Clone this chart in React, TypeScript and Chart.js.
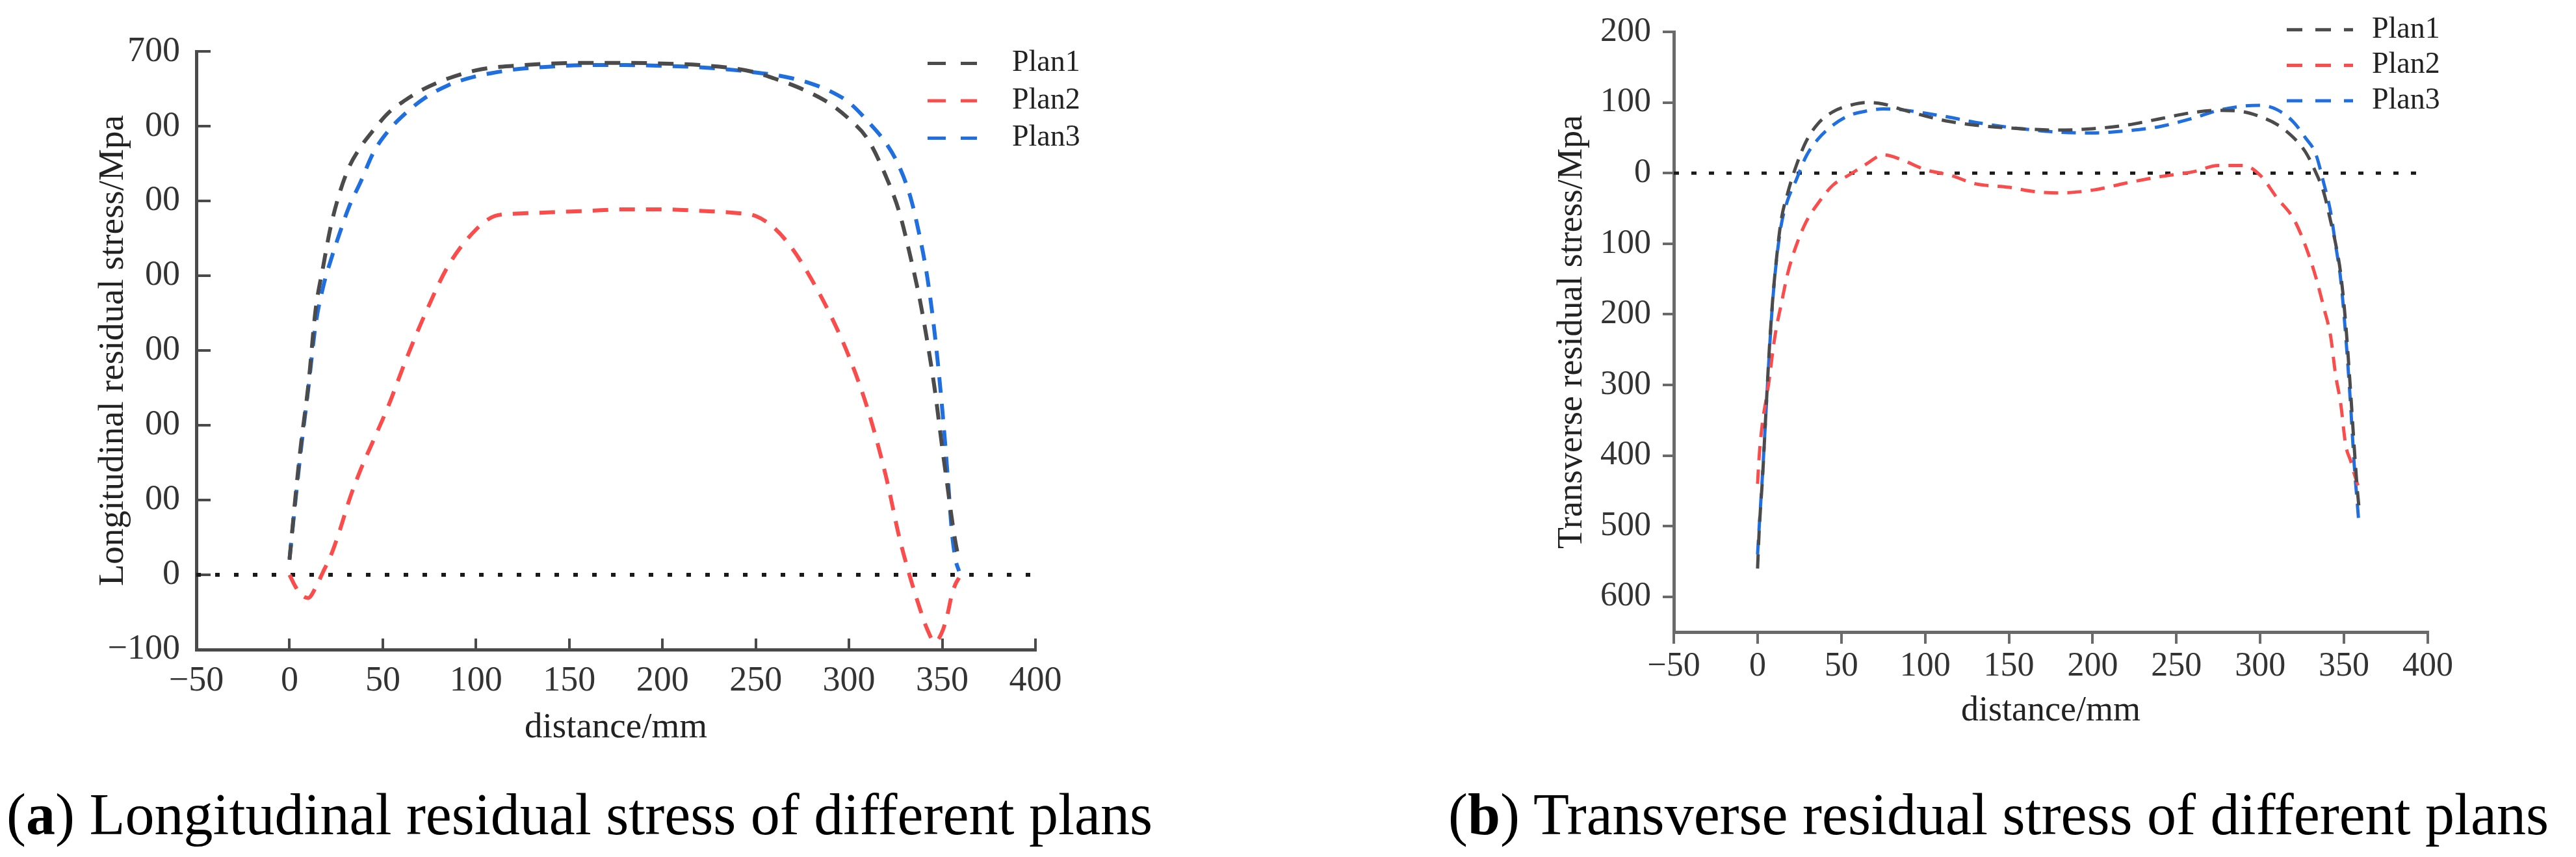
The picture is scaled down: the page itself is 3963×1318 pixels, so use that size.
import { useEffect, useRef } from "react";
import { Chart, registerables } from "chart.js";
import type { ChartConfiguration, Plugin } from "chart.js";

Chart.register(...registerables);

const SERIF = "'Liberation Serif', 'Times New Roman', serif";

// ---------------------------------------------------------------------------
// (a) longitudinal residual stress — x sampled in mm, values in MPa
// ---------------------------------------------------------------------------
const LONG_X = [
  0, 3, 6, 10, 14, 18, 22, 27, 32, 38, 45, 53, 62, 72, 85, 100, 110, 120, 140, 160, 180,
  200, 220, 240, 250, 260, 270, 280, 290, 300, 310, 320, 327, 333, 338, 342, 346, 350, 353,
  355, 357, 359,
];
const LONG_PLAN1 = [
  20, 100, 172, 252, 355, 412, 465, 512, 546, 572, 595, 618, 635, 650, 664, 675, 679, 681,
  684, 685, 685, 684, 682, 677, 672, 664, 655, 644, 630, 610, 583, 532, 485, 425, 368, 312,
  248, 170, 115, 78, 45, 20,
];
const LONG_PLAN2 = [
  0, -15, -26, -31, -17, 4, 25, 60, 100, 140, 180, 226, 285, 345, 413, 462, 480, 483, 485,
  487, 489, 489, 487, 484, 480, 464, 435, 395, 348, 292, 222, 130, 50, -5, -45, -73, -90,
  -76, -51, -28, -13, -4,
];
const LONG_PLAN3 = [
  22, 95, 165, 248, 335, 385, 420, 458, 493, 525, 565, 594, 617, 637, 655, 667, 672, 676,
  680, 682, 682, 681, 679, 675, 672, 669, 664, 657, 647, 632, 607, 577, 546, 505, 452, 398,
  322, 222, 130, 62, 22, 5,
];

// ---------------------------------------------------------------------------
// (b) transverse residual stress
// ---------------------------------------------------------------------------
const TRANS_X = [
  0, 1, 3, 5, 7, 9, 11, 14, 18, 23, 29, 36, 45, 55, 65, 75, 85, 100, 115, 130, 150, 165,
  180, 200, 220, 240, 260, 275, 290, 300, 310, 320, 327, 333, 338, 342, 345, 348, 351, 354,
  356, 358, 359,
];
const TRANS_PLAN1 = [
  -560, -505, -430, -338, -250, -180, -128, -68, -28, 10, 45, 70, 87, 96, 100, 98, 91, 81,
  73, 68, 64, 62, 61, 63, 68, 77, 86, 89, 87, 80, 69, 50, 30, 2, -28, -68, -100, -142, -213,
  -312, -385, -450, -475,
];
const TRANS_PLAN2 = [
  -440, -400, -352, -322, -292, -254, -222, -187, -142, -103, -69, -43, -17, -2, 13, 26, 20,
  5, -3, -15, -20, -26, -28, -24, -14, -5, 2, 11, 11, -3, -35, -65, -103, -146, -191, -231,
  -286, -326, -385, -408, -425, -440, -445,
];
const TRANS_PLAN3 = [
  -540, -500, -425, -340, -255, -182, -130, -75, -38, -10, 24, 48, 68, 82, 88, 91, 90, 85,
  79, 72, 65, 61, 58, 57, 60, 66, 78, 89, 95, 96, 90, 72, 50, 28, -15, -55, -102, -150, -230,
  -331, -410, -470, -500,
];

// dotted reference line at zero stress
const ZERO_X = [-50, 400];
const ZERO_Y = [0, 0];

// tick labels as printed in the figure
const X_TICK_VALUES = [-50, 0, 50, 100, 150, 200, 250, 300, 350, 400];
const X_TICK_LABELS = ["−50", "0", "50", "100", "150", "200", "250", "300", "350", "400"];
const LONG_Y_VALUES = [-100, 0, 100, 200, 300, 400, 500, 600, 700];
const LONG_Y_LABELS = ["−100", "0", "00", "00", "00", "00", "00", "00", "700"];
const TRANS_Y_VALUES = [-600, -500, -400, -300, -200, -100, 0, 100, 200];
const TRANS_Y_LABELS = ["600", "500", "400", "300", "200", "100", "0", "100", "200"];

const PLAN_NAMES = ["Plan1", "Plan2", "Plan3"];
const PLAN_COLORS = ["#4b4b4b", "#fb4c4c", "#1f6fe0"];

type LegendOpts = {
  top: number;
  gap: number;
  lineStart: number;
  lineLength: number;
  textStart: number;
  fontSize: number;
  lineWidth: number;
  dashOn: number;
  dashOff: number;
};

type Spec = {
  xs: number[];
  series: number[][];
  yMin: number;
  yMax: number;
  yValues: number[];
  yLabels: string[];
  yTitle: string;
  width: number;
  height: number;
  padTop: number;
  padRight: number;
  yAxisWidth: number;
  xAxisHeight: number;
  xTickLen: number; // negative = pointing into the plot
  yTickLen: number;
  xTickPad: number;
  yTickPad: number;
  yTitlePad: number;
  xTitlePad: number;
  tickFont: number;
  titleFont: number;
  axisColor: string;
  axisWidth: number;
  tickWidth: number;
  lineWidth: number;
  dash: number[];
  zeroWidth: number;
  zeroDash: number[];
  legend: LegendOpts;
};

const labelFor = (values: number[], labels: string[]) => (v: number | string) => {
  const i = values.indexOf(Number(v));
  return i < 0 ? "" : labels[i];
};

// legend drawn inside the plot, dashed sample + name, like the original
const dashLegend: Plugin<"line"> = {
  id: "dashLegend",
  afterDraw(chart, _args, opts: any) {
    const { ctx, chartArea } = chart;
    ctx.save();
    ctx.font = `${opts.fontSize}px ${SERIF}`;
    ctx.textBaseline = "middle";
    ctx.textAlign = "left";
    for (let i = 0; i < PLAN_NAMES.length; i++) {
      const y = chartArea.top + opts.top + i * opts.gap;
      const x = chartArea.right + opts.lineStart;
      ctx.strokeStyle = PLAN_COLORS[i];
      ctx.lineWidth = opts.lineWidth;
      ctx.setLineDash([opts.dashOn, opts.dashOff]);
      ctx.beginPath();
      ctx.moveTo(x, y);
      ctx.lineTo(x + opts.lineLength, y);
      ctx.stroke();
      ctx.setLineDash([]);
      ctx.fillStyle = "#222";
      ctx.fillText(PLAN_NAMES[i], chartArea.right + opts.textStart, y);
    }
    ctx.restore();
  },
};

function buildConfig(s: Spec): ChartConfiguration<"line"> {
  const planSets = s.series.map((ys, i) => ({
    label: PLAN_NAMES[i],
    data: s.xs.map((x, j) => ({ x, y: ys[j] })),
    borderColor: PLAN_COLORS[i],
    backgroundColor: PLAN_COLORS[i],
    borderWidth: s.lineWidth,
    borderDash: s.dash,
    borderCapStyle: "butt" as const,
    pointRadius: 0,
    fill: false,
    cubicInterpolationMode: "monotone" as const,
  }));
  const zeroSet = {
    label: "zero",
    data: ZERO_X.map((x, j) => ({ x, y: ZERO_Y[j] })),
    borderColor: "#1a1a1a",
    borderWidth: s.zeroWidth,
    borderDash: s.zeroDash,
    pointRadius: 0,
    fill: false,
    tension: 0,
  };

  return {
    type: "line",
    data: { datasets: [...planSets, zeroSet] as any },
    options: {
      responsive: true,
      maintainAspectRatio: false,
      animation: false,
      events: [],
      layout: {
        autoPadding: false,
        padding: { top: s.padTop, right: s.padRight, bottom: 0, left: 0 },
      },
      scales: {
        x: {
          type: "linear",
          min: -50,
          max: 400,
          afterFit: (sc: any) => {
            sc.height = s.xAxisHeight;
          },
          ticks: {
            stepSize: 50,
            autoSkip: false,
            maxRotation: 0,
            padding: s.xTickPad,
            color: "#333",
            font: { family: SERIF, size: s.tickFont },
            callback: labelFor(X_TICK_VALUES, X_TICK_LABELS),
          },
          grid: {
            drawOnChartArea: false,
            drawTicks: true,
            tickLength: s.xTickLen,
            color: s.axisColor,
            lineWidth: s.tickWidth,
          },
          border: { display: true, color: s.axisColor, width: s.axisWidth },
          title: {
            display: true,
            text: "distance/mm",
            color: "#222",
            font: { family: SERIF, size: s.titleFont },
            padding: { top: 0, bottom: s.xTitlePad },
          },
        },
        y: {
          type: "linear",
          min: s.yMin,
          max: s.yMax,
          afterFit: (sc: any) => {
            sc.width = s.yAxisWidth;
          },
          ticks: {
            stepSize: 100,
            includeBounds: false,
            autoSkip: false,
            padding: s.yTickPad,
            color: "#333",
            font: { family: SERIF, size: s.tickFont },
            callback: labelFor(s.yValues, s.yLabels),
          },
          grid: {
            drawOnChartArea: false,
            drawTicks: true,
            tickLength: s.yTickLen,
            color: s.axisColor,
            lineWidth: s.tickWidth,
          },
          border: { display: true, color: s.axisColor, width: s.axisWidth },
          title: {
            display: true,
            text: s.yTitle,
            color: "#222",
            font: { family: SERIF, size: s.titleFont },
            padding: { top: s.yTitlePad, bottom: 0 },
          },
        },
      },
      plugins: {
        legend: { display: false },
        tooltip: { enabled: false },
        dashLegend: s.legend,
      } as any,
    },
    plugins: [dashLegend],
  };
}

const LONG_SPEC: Spec = {
  xs: LONG_X,
  series: [LONG_PLAN1, LONG_PLAN2, LONG_PLAN3],
  yMin: -100,
  yMax: 700,
  yValues: LONG_Y_VALUES,
  yLabels: LONG_Y_LABELS,
  yTitle: "Longitudinal residual stress/Mpa",
  width: 1720,
  height: 1160,
  padTop: 32,
  padRight: 127,
  yAxisWidth: 302,
  xAxisHeight: 161,
  xTickLen: -17,
  yTickLen: -22,
  xTickPad: 33,
  yTickPad: 47,
  yTitlePad: 142,
  xTitlePad: 7,
  tickFont: 54,
  titleFont: 55,
  axisColor: "#4a4a4a",
  axisWidth: 5,
  tickWidth: 4,
  lineWidth: 6,
  dash: [24, 17],
  zeroWidth: 6,
  zeroDash: [7, 22],
  legend: {
    top: 18,
    gap: 57.5,
    lineStart: -166,
    lineLength: 76,
    textStart: -36,
    fontSize: 46,
    lineWidth: 5,
    dashOn: 28,
    dashOff: 23,
  },
};

const TRANS_SPEC: Spec = {
  xs: TRANS_X,
  series: [TRANS_PLAN1, TRANS_PLAN2, TRANS_PLAN3],
  yMin: -650,
  yMax: 200,
  yValues: TRANS_Y_VALUES,
  yLabels: TRANS_Y_LABELS,
  yTitle: "Transverse residual stress/Mpa",
  width: 1600,
  height: 1160,
  padTop: 33,
  padRight: 165,
  yAxisWidth: 275,
  xAxisHeight: 188,
  xTickLen: 18,
  yTickLen: 17,
  xTickPad: 4,
  yTickPad: 18,
  yTitlePad: 86,
  xTitlePad: 34,
  tickFont: 52,
  titleFont: 54,
  axisColor: "#6a6a6a",
  axisWidth: 5,
  tickWidth: 4,
  lineWidth: 5,
  dash: [22, 14],
  zeroWidth: 5,
  zeroDash: [8, 19],
  legend: {
    top: -3.5,
    gap: 54.7,
    lineStart: -217,
    lineLength: 102,
    textStart: -86,
    fontSize: 46,
    lineWidth: 5,
    dashOn: 24,
    dashOff: 20,
  },
};

function StressChart({ spec, left }: { spec: Spec; left: number }) {
  const canvasRef = useRef<HTMLCanvasElement>(null);

  useEffect(() => {
    if (!canvasRef.current) return;
    const chart = new Chart(canvasRef.current, buildConfig(spec));
    return () => chart.destroy();
  }, [spec]);

  return (
    <div style={{ position: "absolute", left, top: 0, width: spec.width, height: spec.height }}>
      <canvas ref={canvasRef} />
    </div>
  );
}

const captionStyle: React.CSSProperties = {
  position: "absolute",
  top: 1208,
  font: `90px/1 ${SERIF}`,
  color: "#000",
  whiteSpace: "nowrap",
};

export default function App() {
  useEffect(() => {
    document.body.style.margin = "0";
  }, []);

  return (
    <div
      style={{
        position: "absolute",
        left: 0,
        top: 0,
        width: 3963,
        height: 1318,
        background: "#fff",
        overflow: "hidden",
      }}
    >
      <StressChart spec={LONG_SPEC} left={0} />
      <StressChart spec={TRANS_SPEC} left={2300} />
      <div style={{ ...captionStyle, left: 10 }}>
        (<b>a</b>) Longitudinal residual stress of different plans
      </div>
      <div style={{ ...captionStyle, left: 2228 }}>
        (<b>b</b>) Transverse residual stress of different plans
      </div>
    </div>
  );
}
